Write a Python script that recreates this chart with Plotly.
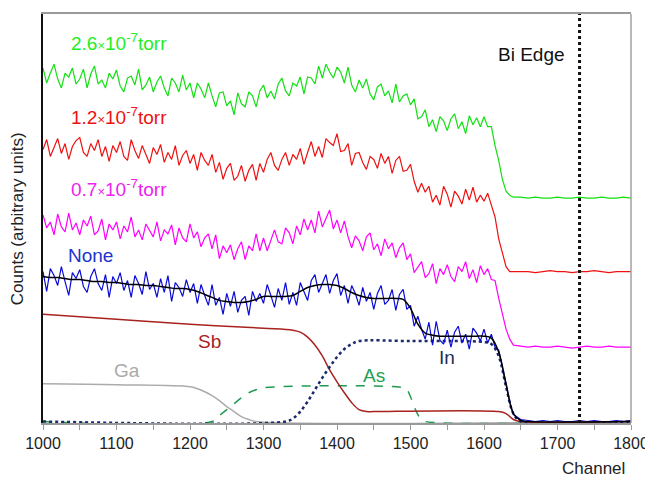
import plotly.graph_objects as go

# ---------------- data ----------------
ch_noisy = list(range(1000, 1645, 5))      # 129 channels
ch_tail = list(range(1650, 1801, 10))      # 16 channels

none_noisy = [151, 131, 154, 147, 137, 156, 141, 127, 150, 144,
              153, 136, 130, 146, 154, 139, 132, 148, 125, 146,
              139, 150, 132, 142, 125, 147, 139, 128, 151, 133,
              139, 125, 144, 130, 147, 121, 140, 135, 126, 143,
              130, 139, 119, 138, 127, 117, 138, 117, 125, 108,
              129, 116, 131, 110, 122, 126, 107, 131, 121, 129,
              119, 138, 127, 115, 134, 122, 140, 118, 130, 117,
              140, 131, 122, 142, 148, 130, 140, 148, 129, 142,
              149, 127, 137, 119, 137, 129, 117, 135, 121, 130,
              113, 129, 137, 118, 122, 133, 112, 128, 133, 113,
              117, 96, 106, 93, 83, 100, 77, 101, 82, 78,
              92, 75, 90, 96, 79, 88, 73, 94, 89, 81,
              93, 79, 88, 75, 72, 54, 39, 20, 7]
none_tail = [2, 1, 0, 1, 0, 1, 0, 0, 1, 0, 1, 0, 0, 1, 0, 1]

p07_noisy = [208, 195, 201, 188, 209, 196, 191, 210, 193, 200,
             188, 203, 197, 207, 188, 192, 204, 183, 199, 193,
             201, 184, 197, 191, 206, 186, 193, 183, 199, 193,
             186, 201, 182, 193, 189, 198, 178, 195, 185, 181,
             199, 185, 191, 176, 185, 189, 174, 188, 164, 177,
             170, 178, 163, 174, 181, 163, 177, 172, 189, 172,
             185, 172, 183, 193, 181, 179, 195, 190, 179, 197,
             188, 204, 193, 203, 190, 212, 196, 204, 213, 194,
             203, 190, 202, 186, 175, 187, 182, 172, 186, 190,
             173, 179, 167, 184, 174, 180, 165, 175, 180, 163,
             169, 150, 156, 161, 145, 149, 159, 139, 154, 148,
             158, 146, 141, 156, 151, 161, 144, 153, 140, 157,
             148, 154, 143, 142, 124, 109, 93, 83, 77]
p07_tail = [76, 75, 76, 75, 75, 76, 75, 74, 75, 76, 75, 75, 76, 75, 75, 75]

p12_noisy = [274, 284, 267, 277, 285, 270, 280, 264, 277, 283,
             286, 271, 267, 280, 273, 284, 267, 277, 262, 278,
             271, 282, 267, 263, 284, 273, 265, 278, 268, 260,
             276, 269, 279, 261, 271, 264, 278, 258, 268, 273,
             260, 269, 253, 271, 263, 258, 269, 251, 261, 244,
             255, 260, 243, 247, 258, 242, 253, 259, 243, 260,
             251, 264, 271, 258, 253, 264, 271, 258, 269, 264,
             275, 259, 271, 282, 267, 277, 266, 285, 281, 278,
             290, 272, 273, 280, 258, 270, 271, 261, 254, 267,
             264, 255, 270, 260, 267, 250, 263, 267, 252, 253,
             259, 242, 231, 240, 231, 237, 221, 228, 218, 237,
             229, 216, 232, 227, 219, 234, 223, 236, 221, 228,
             222, 230, 218, 206, 184, 170, 156, 151, 151]
p12_tail = [151, 151, 150, 151, 152, 151, 151, 150, 151, 151, 152, 151, 150, 151, 151, 151]

p26_noisy = [356, 341, 351, 360, 345, 336, 351, 347, 356, 340,
             345, 355, 336, 350, 358, 340, 344, 336, 351, 345,
             354, 338, 332, 346, 348, 339, 355, 334, 339, 347,
             332, 342, 348, 336, 328, 346, 341, 332, 349, 334,
             341, 326, 341, 335, 326, 341, 328, 317, 331, 332,
             318, 323, 309, 331, 320, 317, 332, 328, 317, 333,
             339, 326, 333, 325, 340, 346, 333, 328, 341, 338,
             347, 330, 347, 346, 340, 358, 346, 360, 352, 346,
             357, 352, 341, 357, 339, 332, 344, 336, 345, 330,
             324, 337, 340, 328, 333, 321, 340, 322, 328, 330,
             319, 325, 305, 307, 314, 297, 304, 292, 307, 303,
             293, 305, 310, 295, 302, 290, 308, 299, 306, 297,
             307, 297, 297, 278, 263, 244, 232, 228, 226]
p26_tail = [226, 225, 226, 225, 225, 226, 225, 225, 226, 225, 225, 226, 225, 225, 226, 225]

fit_x = list(range(1000, 1661, 10)) + [1800]
fit_y = [146, 145, 145, 144, 143, 143, 142, 141, 141, 140,
         140, 139, 138, 138, 137, 137, 136, 135, 134, 134,
         133, 131, 128, 125, 122, 121, 120, 120, 121, 123,
         126, 126, 126, 126, 127, 131, 135, 137, 138, 138,
         137, 134, 130, 127, 125, 124, 124, 124, 124, 123,
         114, 98, 89, 87, 86, 86, 86, 86, 86, 86,
         86, 84, 70, 38, 8, 1, 0, 0]

sb_x = [1000, 1100, 1200, 1300, 1340, 1350, 1360, 1370, 1380, 1390, 1400, 1410,
        1420, 1430, 1440, 1450, 1620, 1630, 1640, 1650, 1800]
sb_y = [108, 103, 98, 94, 92, 90, 85, 77, 66, 52, 40, 29, 19, 12, 10, 10, 10, 8, 2, 0, 0]

ga_x = [1000, 1100, 1200, 1210, 1220, 1230, 1240, 1250, 1260, 1270, 1280, 1290, 1800]
ga_y = [38, 37, 35, 33, 30, 26, 21, 15, 10, 5, 2, 0, 0]

as_x = [1000, 1230, 1240, 1250, 1260, 1270, 1280, 1290, 1300, 1490, 1495, 1500,
        1505, 1510, 1515, 1520, 1800]
as_y = [0, 0, 6, 12, 18, 24, 29, 32, 34, 34, 32, 25, 15, 7, 2, 0, 0]

in_x = [1000, 1330, 1340, 1350, 1360, 1370, 1380, 1390, 1400, 1410, 1420, 1430,
        1500, 1600, 1610, 1620, 1630, 1640, 1650, 1800]
in_y = [0, 0, 3, 10, 20, 32, 44, 55, 65, 73, 78, 81, 81, 80, 78, 66, 35, 8, 0, 0]

bi_edge = 1730
x_ticks = [1000, 1100, 1200, 1300, 1400, 1500, 1600, 1700, 1800]

FONT = "Liberation Sans, Arial, sans-serif"

fig = go.Figure()

def add(x, y, color, width=1.2, dash="solid", shape="linear"):
    fig.add_trace(go.Scatter(x=x, y=y, mode="lines",
                             line=dict(color=color, width=width, dash=dash, shape=shape),
                             hoverinfo="skip", showlegend=False))

add(ga_x, ga_y, "#ababab", 1.5, shape="spline")
add(as_x, as_y, "#1f9a50", 1.5, dash="dash", shape="spline")
add(sb_x, sb_y, "#a8231f", 1.5, shape="spline")
add(in_x, in_y, "#1c2a6e", 2.5, dash="dot", shape="spline")
add(ch_noisy + ch_tail, none_noisy + none_tail, "#0a0ad8", 1.2)
add(fit_x, fit_y, "#000000", 1.5, shape="spline")
add(ch_noisy + ch_tail, p07_noisy + p07_tail, "#ff00ff", 1.2)
add(ch_noisy + ch_tail, p12_noisy + p12_tail, "#ee1111", 1.2)
add(ch_noisy + ch_tail, p26_noisy + p26_tail, "#11e011", 1.2)

def ann(x, y, text, color, size=19):
    fig.add_annotation(x=x, y=y, text=text, showarrow=False,
                       font=dict(family=FONT, size=size, color=color),
                       xanchor="center", yanchor="middle")

times = "<span style='font-size:13px'>×</span>"
ann(1104, 382, "2.6" + times + "10<sup>-7</sup>torr", "#22ee22")
ann(1104, 308, "1.2" + times + "10<sup>-7</sup>torr", "#ee1111")
ann(1104, 235, "0.7" + times + "10<sup>-7</sup>torr", "#ee22ee")
ann(1064, 167, "None", "#2233cc")
ann(1227, 81, "Sb", "#a8231f")
ann(1114, 51, "Ga", "#aaaaaa")
ann(1451, 46, "As", "#22a055")
ann(1550, 64, "In", "#1c2a55")
ann(1664, 370, "Bi Edge", "#111111")

fig.add_annotation(xref="paper", yref="paper", x=0.936, y=-0.111, text="Channel",
                   showarrow=False, font=dict(family=FONT, size=17, color="#222"),
                   xanchor="center", yanchor="middle")
fig.add_annotation(xref="paper", yref="paper", x=-0.042, y=0.499,
                   text="Counts (arbitrary units)", textangle=-90,
                   showarrow=False, font=dict(family=FONT, size=17, color="#222"),
                   xanchor="center", yanchor="middle")

# Bi edge dotted line
fig.add_shape(type="line", xref="x", yref="paper", x0=bi_edge, x1=bi_edge, y0=0, y1=1,
              line=dict(color="#111111", width=3, dash="dot"))
# right border (gray)
fig.add_shape(type="line", xref="paper", yref="paper", x0=1, x1=1, y0=0, y1=1,
              line=dict(color="#a0a0a0", width=1.5))

# page body has an 8px margin, so the figure is sized/offset to compensate
fig.update_layout(
    width=645, height=472,
    margin=dict(l=35, r=18, t=4, b=57),
    paper_bgcolor="white", plot_bgcolor="white",
    font=dict(family=FONT, size=16, color="#222"),
    xaxis=dict(range=[1000, 1800], tickvals=x_ticks, ticks="outside", ticklen=5,
               tickcolor="#9a9a9a", tickwidth=1.2, showgrid=False, zeroline=False,
               showline=True, linecolor="#9a9a9a", linewidth=1.5, mirror=True,
               tickfont=dict(family=FONT, size=16, color="#222"),
               minor=dict(dtick=50, ticks="outside", ticklen=5, tickcolor="#9a9a9a")),
    yaxis=dict(range=[-1.5, 410.5], showticklabels=False, ticks="", showgrid=False,
               zeroline=False, showline=True, linecolor="#111111", linewidth=1.5),
)

fig.write_html("out.html")
